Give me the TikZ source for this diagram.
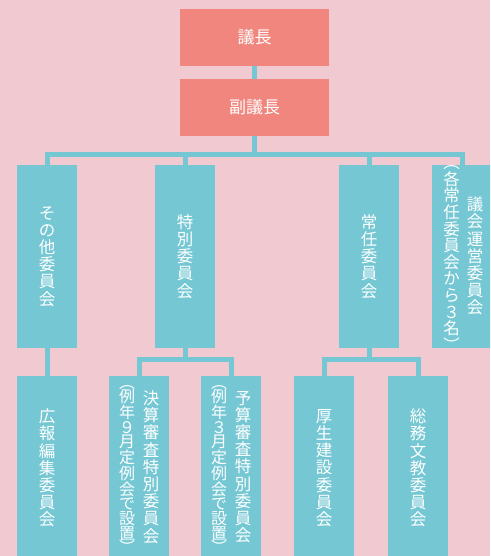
\documentclass[tikz,border=0pt]{standalone}
\usepackage{fontspec}
\setmainfont{Noto Sans CJK JP}
\definecolor{bgpink}{HTML}{F1C9D1}
\definecolor{boxsalmon}{HTML}{F0867D}
\definecolor{boxteal}{HTML}{74C7D3}
\tikzset{
  redbox/.style={fill=boxsalmon, minimum width=149pt, minimum height=57pt, inner sep=0pt, text=white, font=\fontsize{17}{17}\selectfont},
  bluebox/.style={fill=boxteal, minimum width=60pt, minimum height=183pt, inner sep=0pt},
  lowbox/.style={fill=boxteal, minimum width=60pt, minimum height=184pt, inner sep=0pt},
  vtext/.style={text=white, align=center, inner sep=0pt, font=\fontsize{16.5}{17.2}\selectfont},
  vtextB/.style={text=white, align=center, inner sep=0pt, font=\fontsize{16.5}{16.6}\selectfont},
  vtextC/.style={text=white, align=center, inner sep=0pt, font=\fontsize{16}{14.7}\selectfont},
  link/.style={draw=boxteal, line width=5pt}
}
\begin{document}
\begin{tikzpicture}[x=1pt,y=-1pt]
\fill[bgpink] (0,0) rectangle (490,556);
\useasboundingbox (0,0) rectangle (490,556);
\begin{scope}
\clip (0,0) rectangle (490,556);
% connectors
\coordinate (bus) at (254.5,154.5);
\coordinate (tbus) at (185,359.5);
\coordinate (jbus) at (369,359.5);

\node[redbox] (gichou) at (254.5,37.5) {議長};
\node[redbox] (fuku) at (254.5,107.5) {副議長};

\node[bluebox] (sonota) at (47,256.5) {};
\node[bluebox] (tokubetsu) at (185,256.5) {};
\node[bluebox] (jounin) at (369,256.5) {};
\node[bluebox] (giun) at (462,256.5) {};

\node[lowbox] (kouhou) at (47,468) {};
\node[lowbox] (kessan) at (139,468) {};
\node[lowbox] (yosan) at (231,468) {};
\node[lowbox] (kousei) at (324,468) {};
\node[lowbox] (soumu) at (418,468) {};

\draw[link] (gichou.south) -- (fuku.north);
\draw[link] (fuku.south) -- (bus);
\draw[link] (sonota.north) |- (bus) -| (giun.north);
\draw[link] (tokubetsu.north) -- (tokubetsu.north |- bus);
\draw[link] (jounin.north) -- (jounin.north |- bus);
\draw[link] (sonota.south) -- (kouhou.north);
\draw[link] (tokubetsu.south) -- (tbus);
\draw[link] (kessan.north) |- (tbus) -| (yosan.north);
\draw[link] (jounin.south) -- (jbus);
\draw[link] (kousei.north) |- (jbus) -| (soumu.north);

% texts
\node[vtext] (t-sonota) at (sonota.center) {そ\\の\\他\\委\\員\\会};
\node[vtext] (t-tokubetsu) at (tokubetsu.center) {特\\別\\委\\員\\会};
\node[vtext] (t-jounin) at (jounin.center) {常\\任\\委\\員\\会};
\node[vtext] (t-giun) at (475,256) {議\\会\\運\\営\\委\\員\\会};
\node[vtextB] (t-giun2) at (451.5,258.5) {︵\\各\\常\\任\\委\\員\\会\\か\\ら\\３\\名\\︶};
\node[vtext] (t-kouhou) at (kouhou.center) {広\\報\\編\\集\\委\\員\\会};
\node[vtext] (t-kessan) at (151,467) {決\\算\\審\\査\\特\\別\\委\\員\\会};
\node[vtextC] (t-kessan2) at (127,469.5) {︵\\例\\年\\９\\月\\定\\例\\会\\で\\設\\置\\︶};
\node[vtext] (t-yosan) at (243,467) {予\\算\\審\\査\\特\\別\\委\\員\\会};
\node[vtextC] (t-yosan2) at (219,469.5) {︵\\例\\年\\３\\月\\定\\例\\会\\で\\設\\置\\︶};
\node[vtext] (t-kousei) at (kousei.center) {厚\\生\\建\\設\\委\\員\\会};
\node[vtext] (t-soumu) at (soumu.center) {総\\務\\文\\教\\委\\員\\会};
\end{scope}
\end{tikzpicture}
\end{document}
